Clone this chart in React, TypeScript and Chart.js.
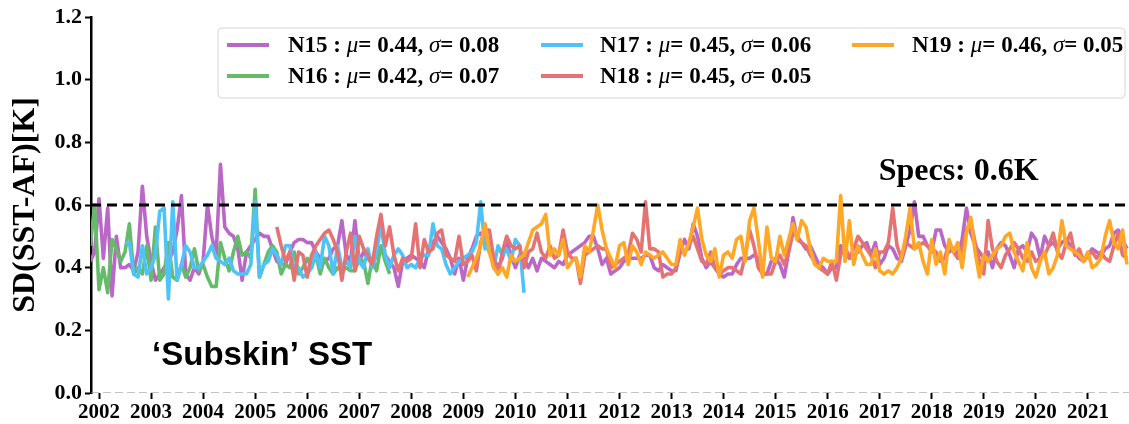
import React, { useEffect, useRef } from "react";
import { Chart, registerables } from "chart.js";

Chart.register(...registerables);

// ---- time base: monthly values, first month = Nov 2001 ----
const START_YEAR = 2001;
const START_MONTH_INDEX = 10; // November (0-based)

const xMin = 2001.846;
const xMax = 2021.79;
const yTicks = [0, 0.2, 0.4, 0.6, 0.8, 1.0, 1.2];
const yearTicks = [
  2002, 2003, 2004, 2005, 2006, 2007, 2008, 2009, 2010, 2011,
  2012, 2013, 2014, 2015, 2016, 2017, 2018, 2019, 2020, 2021,
];
const specsLevel = 0.6;

const satNames = ["N15", "N16", "N17", "N18", "N19"];
const satColors = ["#BA68C8", "#66BB6A", "#4FC3F7", "#E57373", "#FFA726"];
const satMu = ["0.44", "0.42", "0.45", "0.45", "0.46"];
const satSigma = ["0.08", "0.07", "0.06", "0.05", "0.05"];
const satStartMonth = [0, 0, 8, 43, 87]; // months after Nov 2001

const n15 = [
  0.42, 0.45, 0.62, 0.43, 0.59, 0.31, 0.50, 0.40, 0.40, 0.41,
  0.39, 0.45, 0.66, 0.50, 0.42, 0.36, 0.38, 0.40, 0.42, 0.45,
  0.52, 0.63, 0.38, 0.36, 0.40, 0.38, 0.42, 0.60, 0.50, 0.44,
  0.73, 0.53, 0.51, 0.50, 0.46, 0.36, 0.45, 0.47, 0.49, 0.51,
  0.50, 0.50, 0.46, 0.42, 0.41, 0.41, 0.45, 0.48, 0.49, 0.49,
  0.48, 0.48, 0.45, 0.43, 0.42, 0.43, 0.46, 0.47, 0.55, 0.44,
  0.42, 0.55, 0.42, 0.45, 0.43, 0.41, 0.44, 0.46, 0.44, 0.42,
  0.40, 0.34, 0.42, 0.43, 0.44, 0.43, 0.42, 0.40, 0.46, 0.48,
  0.50, 0.48, 0.46, 0.43, 0.38, 0.43, 0.36, 0.43, 0.46, 0.50,
  0.51, 0.49, 0.45, 0.43, 0.40, 0.43, 0.48, 0.44, 0.40, 0.44,
  0.43, 0.40, 0.43, 0.39, 0.43, 0.42, 0.41, 0.40, 0.42, 0.41,
  0.44, 0.45, 0.46, 0.47, 0.48, 0.50, 0.50, 0.46, 0.41, 0.43,
  0.38, 0.39, 0.40, 0.42, 0.43, 0.43, 0.43, 0.43, 0.44, 0.44,
  0.40, 0.39, 0.41, 0.40, 0.39, 0.39, 0.45, 0.49, 0.46, 0.54,
  0.50, 0.43, 0.40, 0.42, 0.40, 0.38, 0.37, 0.38, 0.38, 0.41,
  0.43, 0.43, 0.43, 0.44, 0.43, 0.38, 0.38, 0.42, 0.43, 0.41,
  0.37, 0.45, 0.56, 0.49, 0.48, 0.46, 0.47, 0.44, 0.41, 0.40,
  0.38, 0.40, 0.40, 0.47, 0.45, 0.43, 0.44, 0.45, 0.47, 0.48,
  0.44, 0.48, 0.41, 0.43, 0.47, 0.46, 0.43, 0.42, 0.47, 0.52,
  0.61, 0.50, 0.50, 0.47, 0.45, 0.52, 0.52, 0.47, 0.45, 0.46,
  0.44, 0.49, 0.59, 0.51, 0.47, 0.45, 0.43, 0.45, 0.40, 0.46,
  0.48, 0.47, 0.44, 0.40, 0.46, 0.47, 0.45, 0.51, 0.49, 0.43,
  0.50, 0.47, 0.48, 0.46, 0.48, 0.49, 0.47, 0.45, 0.43, 0.42,
  0.44, 0.46, 0.45, 0.44, 0.46, 0.47, 0.51, 0.52, 0.49, 0.46,
];

const n16 = [
  0.47, 0.60, 0.33, 0.40, 0.32, 0.49, 0.46, 0.42, 0.45, 0.54,
  0.38, 0.40, 0.38, 0.47, 0.36, 0.53, 0.36, 0.38, 0.48, 0.37,
  0.36, 0.41, 0.37, 0.40, 0.46, 0.39, 0.41, 0.37, 0.34, 0.34,
  0.48, 0.43, 0.39, 0.45, 0.50, 0.44, 0.45, 0.43, 0.65, 0.37,
  0.41, 0.45, 0.47, 0.45, 0.38, 0.41, 0.40, 0.45, 0.38, 0.40,
  0.43, 0.40, 0.44, 0.38, 0.43, 0.40, 0.38, 0.40, 0.39, 0.40,
  0.39, 0.39, 0.43, 0.42, 0.35, 0.43, 0.39, 0.47, 0.42, 0.38,
];

const n17 = [
  0.48, 0.48, 0.38, 0.37, 0.47, 0.38, 0.40, 0.44, 0.58, 0.59,
  0.30, 0.61, 0.36, 0.41, 0.47, 0.45, 0.40, 0.40, 0.42, 0.44,
  0.47, 0.43, 0.42, 0.41, 0.43, 0.39, 0.38, 0.38, 0.38, 0.41,
  0.61, 0.37, 0.41, 0.42, 0.46, 0.44, 0.41, 0.47, 0.47, 0.39,
  0.40, 0.37, 0.38, 0.40, 0.45, 0.40, 0.50, 0.47, 0.38, 0.47,
  0.40, 0.42, 0.40, 0.50, 0.42, 0.40, 0.46, 0.40, 0.45, 0.54,
  0.44, 0.40, 0.44, 0.46, 0.44, 0.40, 0.41, 0.40, 0.43, 0.44,
  0.44, 0.54, 0.47, 0.46, 0.41, 0.38, 0.40, 0.42, 0.43, 0.44,
  0.45, 0.48, 0.61, 0.46, 0.48, 0.40, 0.47, 0.44, 0.46, 0.42,
  0.49, 0.47, 0.32,
];

const n18 = [
  0.53, 0.47, 0.42, 0.45, 0.36, 0.45, 0.44,
  0.37, 0.44, 0.47, 0.49, 0.51, 0.52, 0.49, 0.45, 0.36, 0.45,
  0.51, 0.39, 0.50, 0.46, 0.44, 0.41, 0.50, 0.57, 0.47, 0.53,
  0.44, 0.39, 0.43, 0.42, 0.43, 0.54, 0.40, 0.49, 0.45, 0.46,
  0.51, 0.52, 0.44, 0.43, 0.42, 0.50, 0.41, 0.42, 0.44, 0.39,
  0.48, 0.52, 0.52, 0.43, 0.38, 0.45, 0.50, 0.47, 0.46, 0.47,
  0.40, 0.45, 0.46, 0.51, 0.45, 0.43, 0.47, 0.43, 0.44, 0.52,
  0.45, 0.43, 0.43, 0.35, 0.44, 0.45, 0.46, 0.47, 0.46, 0.46,
  0.40, 0.41, 0.42, 0.43, 0.44, 0.51, 0.49, 0.45, 0.61, 0.46,
  0.46, 0.45, 0.37, 0.38, 0.38, 0.40, 0.45, 0.45, 0.47, 0.50,
  0.46, 0.42, 0.41, 0.45, 0.40, 0.38, 0.39, 0.40, 0.40, 0.39,
  0.38, 0.44, 0.52, 0.47, 0.40, 0.38, 0.38, 0.38, 0.42, 0.44,
  0.41, 0.45, 0.51, 0.50, 0.48, 0.47, 0.44, 0.42, 0.40, 0.39,
  0.38, 0.42, 0.36, 0.44, 0.47, 0.43, 0.46, 0.50, 0.48, 0.46,
  0.44, 0.40, 0.45, 0.45, 0.48, 0.59, 0.47, 0.43, 0.48, 0.47,
  0.46, 0.47, 0.48, 0.47, 0.46, 0.45, 0.42, 0.43, 0.48, 0.45,
  0.43, 0.46, 0.52, 0.55, 0.48, 0.42, 0.38, 0.55, 0.46, 0.42,
  0.40, 0.44, 0.46, 0.48, 0.46, 0.43, 0.42, 0.45, 0.42, 0.43,
  0.44, 0.47, 0.51, 0.45, 0.43, 0.48, 0.51, 0.44, 0.46, 0.42,
  0.44, 0.45, 0.43, 0.45, 0.43, 0.42, 0.47, 0.51, 0.44, 0.43,
];

const n19 = [
  0.37, 0.40, 0.43,
  0.47, 0.54, 0.45, 0.40, 0.38, 0.40, 0.37, 0.44, 0.42, 0.43,
  0.44, 0.48, 0.52, 0.53, 0.54, 0.57, 0.44, 0.46, 0.44, 0.49,
  0.40, 0.42, 0.43, 0.37, 0.47, 0.45, 0.52, 0.60, 0.52, 0.46,
  0.43, 0.40, 0.47, 0.48, 0.41, 0.47, 0.45, 0.41, 0.45, 0.44,
  0.43, 0.44, 0.45, 0.43, 0.41, 0.41, 0.49, 0.44, 0.48, 0.53,
  0.59, 0.49, 0.44, 0.42, 0.46, 0.37, 0.44, 0.45, 0.43, 0.49,
  0.50, 0.42, 0.55, 0.59, 0.49, 0.37, 0.53, 0.43, 0.42, 0.50,
  0.44, 0.49, 0.54, 0.49, 0.55, 0.53, 0.46, 0.41, 0.40, 0.43,
  0.42, 0.42, 0.42, 0.63, 0.42, 0.55, 0.41, 0.47, 0.44, 0.41,
  0.41, 0.46, 0.39, 0.38, 0.39, 0.38, 0.40, 0.43, 0.50, 0.59,
  0.46, 0.48, 0.42, 0.38, 0.49, 0.41, 0.45, 0.38, 0.49, 0.45,
  0.48, 0.40, 0.51, 0.56, 0.45, 0.37, 0.44, 0.42, 0.44, 0.46,
  0.47, 0.50, 0.51, 0.45, 0.42, 0.39, 0.48, 0.40, 0.37, 0.42,
  0.45, 0.38, 0.40, 0.44, 0.55, 0.47, 0.46, 0.45, 0.44, 0.42,
  0.45, 0.40, 0.41, 0.43, 0.50, 0.55, 0.48, 0.46, 0.52, 0.41,
];

const satValues = [n15, n16, n17, n18, n19];

const SERIF = "'Liberation Serif', 'Times New Roman', serif";
const SANS = "'Liberation Sans', Arial, sans-serif";

function toPoints(values: number[], startMonth: number) {
  return values.map((v, i) => ({
    x: START_YEAR + (START_MONTH_INDEX + startMonth + i) / 12,
    y: v,
  }));
}

const overlayPlugin = {
  id: "overlay",
  afterDatasetsDraw(chart: any) {
    const { ctx, scales } = chart;
    const xs = scales.x;
    const ys = scales.y;
    ctx.save();
    ctx.fillStyle = "#000";
    ctx.textBaseline = "alphabetic";
    ctx.textAlign = "left";

    // annotations
    ctx.font = `bold 32px ${SERIF}`;
    ctx.fillText("Specs: 0.6K", xs.getPixelForValue(2016.98), ys.getPixelForValue(0.68));
    ctx.font = `bold 33px ${SANS}`;
    ctx.fillText("\u2018Subskin\u2019 SST", xs.getPixelForValue(2003.02), ys.getPixelForValue(0.089));

    // legend box
    const bx = 218, by = 28, bw = 907, bh = 70, r = 4;
    ctx.beginPath();
    ctx.moveTo(bx + r, by);
    ctx.lineTo(bx + bw - r, by);
    ctx.quadraticCurveTo(bx + bw, by, bx + bw, by + r);
    ctx.lineTo(bx + bw, by + bh - r);
    ctx.quadraticCurveTo(bx + bw, by + bh, bx + bw - r, by + bh);
    ctx.lineTo(bx + r, by + bh);
    ctx.quadraticCurveTo(bx, by + bh, bx, by + bh - r);
    ctx.lineTo(bx, by + r);
    ctx.quadraticCurveTo(bx, by, bx + r, by);
    ctx.closePath();
    ctx.fillStyle = "rgba(255,255,255,0.8)";
    ctx.fill();
    ctx.strokeStyle = "#d6d6d6";
    ctx.lineWidth = 1;
    ctx.stroke();

    const colLineX = [227, 541, 852];
    const colTextX = [288, 600, 912];
    const rowY = [45, 76];
    for (let i = 0; i < satNames.length; i++) {
      const col = Math.floor(i / 2);
      const row = i % 2;
      const y = rowY[row];
      ctx.strokeStyle = satColors[i];
      ctx.lineWidth = 3.8;
      ctx.beginPath();
      ctx.moveTo(colLineX[col], y);
      ctx.lineTo(colLineX[col] + 42, y);
      ctx.stroke();

      const parts: [string, boolean][] = [
        [`${satNames[i]} : `, false],
        ["\u03bc", true],
        [`= ${satMu[i]}, `, false],
        ["\u03c3", true],
        [`= ${satSigma[i]}`, false],
      ];
      let tx = colTextX[col];
      ctx.fillStyle = "#000";
      ctx.textBaseline = "middle";
      for (const [t, it] of parts) {
        ctx.font = it ? `italic 23px ${SERIF}` : `bold 23px ${SERIF}`;
        ctx.fillText(t, tx, y + 1);
        tx += ctx.measureText(t).width;
      }
    }
    ctx.restore();
  },
};

export default function App() {
  const canvasRef = useRef<HTMLCanvasElement | null>(null);

  useEffect(() => {
    const canvas = canvasRef.current;
    if (!canvas) return;

    const lineSets = satNames.map((name, i) => ({
      label: name,
      data: toPoints(satValues[i], satStartMonth[i]),
      borderColor: satColors[i],
      backgroundColor: satColors[i],
      borderWidth: 3.6,
      pointRadius: 0,
      tension: 0,
      fill: false,
      borderJoinStyle: "round" as const,
      order: satNames.length - i + 1,
    }));

    const chart = new Chart(canvas, {
      type: "line",
      data: {
        datasets: [
          ...lineSets,
          {
            label: "specs",
            data: [
              { x: xMin, y: specsLevel },
              { x: xMax, y: specsLevel },
            ],
            borderColor: "#000",
            borderWidth: 3.2,
            borderDash: [10, 6],
            pointRadius: 0,
            order: 0,
          },
          {
            label: "zero",
            data: [
              { x: xMin, y: 0 },
              { x: xMax, y: 0 },
            ],
            borderColor: "#8a8a8a",
            borderWidth: 1.2,
            borderDash: [8, 4],
            pointRadius: 0,
            order: 0,
          },
        ] as any,
      },
      options: {
        animation: false,
        responsive: false,
        maintainAspectRatio: false,
        devicePixelRatio: 1,
        layout: { padding: { top: 17, right: 0, left: 0, bottom: 0 } },
        plugins: {
          legend: { display: false },
          tooltip: { enabled: false },
        },
        scales: {
          x: {
            type: "linear",
            min: xMin,
            max: xMax,
            afterBuildTicks: (scale: any) => {
              scale.ticks = yearTicks.map((v) => ({ value: v }));
            },
            afterFit: (scale: any) => {
              scale.height = 31;
            },
            border: { display: false },
            grid: {
              display: true,
              drawOnChartArea: false,
              drawTicks: true,
              tickLength: 6,
              tickWidth: 2,
              tickColor: "#000",
            },
            ticks: {
              autoSkip: false,
              maxRotation: 0,
              minRotation: 0,
              padding: 1,
              color: "#000",
              font: { family: SERIF, weight: "bold", size: 21 },
              callback: (v: any) => String(v),
            },
          },
          y: {
            type: "linear",
            min: 0,
            max: 1.2,
            afterBuildTicks: (scale: any) => {
              scale.ticks = yTicks.map((v) => ({ value: v }));
            },
            afterFit: (scale: any) => {
              scale.width = 91;
            },
            border: { display: true, color: "#000", width: 2.5 },
            grid: {
              display: true,
              drawOnChartArea: false,
              drawTicks: true,
              tickLength: 6,
              tickWidth: 2,
              tickColor: "#000",
            },
            ticks: {
              padding: 3,
              color: "#000",
              font: { family: SERIF, weight: "bold", size: 22 },
              callback: (v: any) => Number(v).toFixed(1),
            },
            title: {
              display: true,
              text: "SD(SST-AF)[K]",
              color: "#000",
              font: { family: SERIF, weight: "bold", size: 32 },
              padding: { top: 7, bottom: 0 },
            },
          },
        },
      } as any,
      plugins: [overlayPlugin],
    });

    return () => {
      chart.destroy();
    };
  }, []);

  return (
    <div
      style={{
        position: "fixed",
        left: 0,
        top: 0,
        width: 1129,
        height: 424,
        background: "#fff",
      }}
    >
      <canvas
        ref={canvasRef}
        width={1129}
        height={424}
        style={{ display: "block", width: 1129, height: 424 }}
      />
    </div>
  );
}
